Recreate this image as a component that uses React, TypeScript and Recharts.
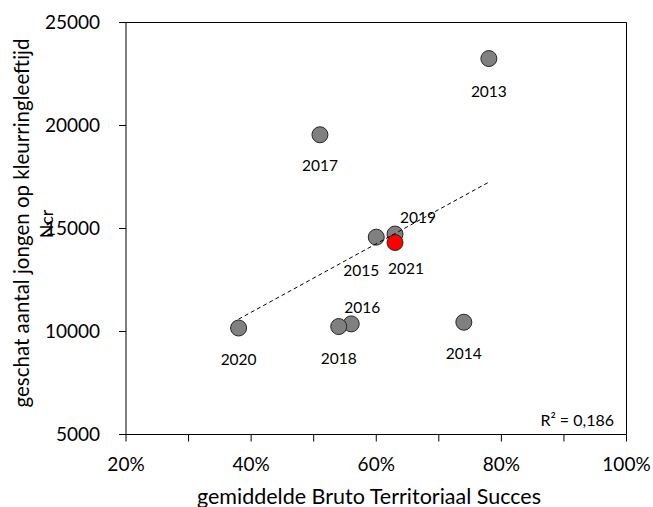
import { ScatterChart, Scatter, XAxis, YAxis, ReferenceLine } from 'recharts';

const years = ['2013', '2014', '2015', '2016', '2017', '2018', '2019', '2020', '2021'];
const successPct = [78, 74, 60, 56, 51, 54, 63, 38, 63];
const youngCount = [23250, 10450, 14580, 10370, 19550, 10240, 14730, 10170, 14320];
const highlightYear = '2021';

// trendline end points
const trendX = [38, 78];
const trendY = [10600, 17250];

const xTicks = [20, 30, 40, 50, 60, 70, 80, 90, 100];
const yTicks = [5000, 10000, 15000, 20000, 25000];

// where each year label sits relative to its dot
const labelOffset: Record<string, [number, number]> = {
  '2013': [0, 32],
  '2014': [0, 31],
  '2015': [-15, 33],
  '2016': [11, -17],
  '2017': [0, 30],
  '2018': [0, 31],
  '2019': [23, -17],
  '2020': [0, 31],
  '2021': [11, 25],
};

const font = "Lato, 'Open Sans', sans-serif";

const points = years.map((year, i) => ({ year, x: successPct[i], y: youngCount[i] }));
const trend = trendX.map((x, i) => ({ x, y: trendY[i] }));

function Dot(props: any) {
  const { cx, cy, payload } = props;
  const [dx, dy] = labelOffset[payload.year] ?? [0, 30];
  return (
    <g>
      <circle
        cx={cx}
        cy={cy}
        r={8}
        fill={payload.year === highlightYear ? '#ff0000' : '#808080'}
        stroke="#262626"
        strokeWidth={1}
      />
      <text
        x={cx + dx}
        y={cy + dy}
        textAnchor="middle"
        dominantBaseline="central"
        fontSize={15.5}
        fontFamily={font}
        fill="#000"
      >
        {payload.year}
      </text>
    </g>
  );
}

export default function App() {
  return (
    <div style={{ position: 'fixed', left: 0, top: 0, width: 653, height: 507, background: '#fff' }}>
      <ScatterChart width={653} height={507} margin={{ top: 22.5, right: 26.5, left: 66, bottom: 42.5 }}>
        <XAxis
          type="number"
          dataKey="x"
          domain={[20, 100]}
          ticks={xTicks}
          interval={0}
          tickFormatter={(v) => (v % 20 === 0 ? `${v}%` : '')}
          tick={{ fontSize: 19, fill: '#000', fontFamily: font }}
          tickSize={7}
          tickMargin={16}
          axisLine={{ stroke: '#000' }}
          tickLine={{ stroke: '#000' }}
          height={30}
        />
        <YAxis
          type="number"
          dataKey="y"
          domain={[5000, 25000]}
          ticks={yTicks}
          interval={0}
          tick={{ fontSize: 19, fill: '#000', fontFamily: font }}
          tickSize={7}
          tickMargin={19}
          axisLine={{ stroke: '#000' }}
          tickLine={{ stroke: '#000' }}
          width={60}
        />
        <ReferenceLine y={25000} stroke="#000" />
        <ReferenceLine x={100} stroke="#000" />
        <Scatter data={points} shape={Dot} isAnimationActive={false} />
        <Scatter
          data={trend}
          line={{ stroke: '#000', strokeWidth: 1, strokeDasharray: '4 3' }}
          shape={() => <g />}
          isAnimationActive={false}
        />
      </ScatterChart>
      <svg
        width={653}
        height={507}
        style={{ position: 'absolute', left: 0, top: 0, pointerEvents: 'none' }}
      >
        <text
          x={29}
          y={223}
          transform="rotate(-90 29 223)"
          textAnchor="middle"
          fontSize={20.5}
          fontFamily={font}
          fill="#000"
        >
          geschat aantal jongen op kleurringleeftijd
        </text>
        <text
          x={53}
          y={224}
          transform="rotate(-90 53 224)"
          textAnchor="middle"
          fontSize={18}
          fontFamily={font}
          fill="#000"
        >
          Ncr
        </text>
        <text x={369} y={503.5} textAnchor="middle" fontSize={21.5} fontFamily={font} fill="#000">
          gemiddelde Bruto Territoriaal Succes
        </text>
        <text x={614} y={426} textAnchor="end" fontSize={16} fontFamily={font} fill="#000">
          R² = 0,186
        </text>
      </svg>
    </div>
  );
}
